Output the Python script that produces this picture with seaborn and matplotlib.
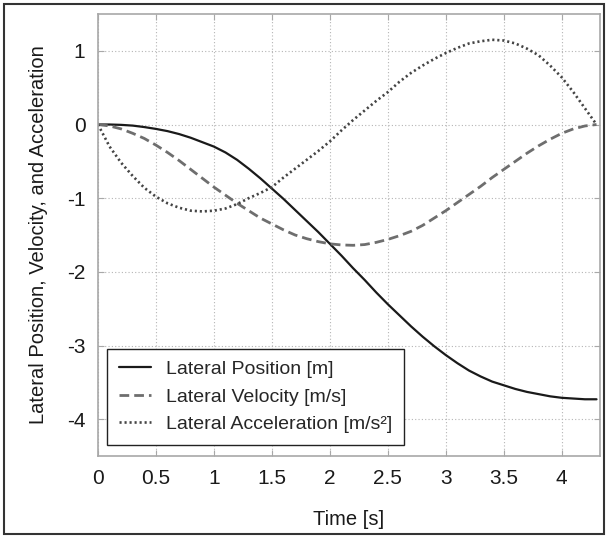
import numpy as np
import pandas as pd
import seaborn as sns
import matplotlib.pyplot as plt
from matplotlib.patches import Rectangle

# time samples [s]
time = [0.0, 0.1, 0.2, 0.3, 0.4, 0.5, 0.6, 0.7, 0.8, 0.9,
        1.0, 1.1, 1.2, 1.3, 1.4, 1.5, 1.6, 1.7, 1.8, 1.9,
        2.0, 2.1, 2.2, 2.3, 2.4, 2.5, 2.6, 2.7, 2.8, 2.9,
        3.0, 3.1, 3.2, 3.3, 3.4, 3.5, 3.6, 3.7, 3.8, 3.9,
        4.0, 4.1, 4.2, 4.3]

position = [0.0, 0.0, -0.005, -0.015, -0.035, -0.06, -0.09, -0.13, -0.18, -0.24,
            -0.30, -0.38, -0.48, -0.60, -0.73, -0.87, -1.01, -1.16, -1.31, -1.46,
            -1.62, -1.78, -1.95, -2.11, -2.28, -2.44, -2.59, -2.74, -2.88, -3.01,
            -3.13, -3.24, -3.34, -3.42, -3.49, -3.54, -3.59, -3.63, -3.66, -3.69,
            -3.71, -3.72, -3.73, -3.73]

velocity = [0.0, -0.02, -0.06, -0.12, -0.19, -0.28, -0.38, -0.49, -0.61, -0.73,
            -0.85, -0.96, -1.07, -1.17, -1.27, -1.35, -1.43, -1.50, -1.55, -1.59,
            -1.62, -1.635, -1.64, -1.63, -1.60, -1.56, -1.51, -1.45, -1.37, -1.27,
            -1.17, -1.06, -0.95, -0.84, -0.72, -0.61, -0.50, -0.39, -0.29, -0.20,
            -0.12, -0.06, -0.02, 0.0]

acceleration = [0.0, -0.30, -0.52, -0.70, -0.86, -0.98, -1.07, -1.13, -1.17, -1.18,
                -1.17, -1.14, -1.08, -1.00, -0.93, -0.85, -0.72, -0.60, -0.48, -0.36,
                -0.23, -0.08, 0.06, 0.19, 0.32, 0.44, 0.58, 0.70, 0.80, 0.89,
                0.97, 1.04, 1.10, 1.13, 1.15, 1.14, 1.10, 1.03, 0.94, 0.80,
                0.64, 0.44, 0.22, 0.0]

x_ticks = [0, 0.5, 1, 1.5, 2, 2.5, 3, 3.5, 4]
x_tick_labels = ["0", "0.5", "1", "1.5", "2", "2.5", "3", "3.5", "4"]
y_ticks = [-4, -3, -2, -1, 0, 1]

df = pd.DataFrame({"t": time, "pos": position, "vel": velocity, "acc": acceleration})

sns.set_style("ticks")
plt.rcParams["font.family"] = ["Liberation Sans", "DejaVu Sans"]
plt.rcParams["axes.unicode_minus"] = False

fig = plt.figure(figsize=(6.06, 5.36), dpi=100)
ax = fig.add_axes([98 / 606, 80 / 536, 502 / 606, 442 / 536])

sns.lineplot(data=df, x="t", y="pos", ax=ax, color="#1a1a1a", lw=1.6,
             label="Lateral Position [m]")
sns.lineplot(data=df, x="t", y="vel", ax=ax, color="#6e6e6e", lw=2.0,
             linestyle=(0, (3.5, 1.8)), label="Lateral Velocity [m/s]")
sns.lineplot(data=df, x="t", y="acc", ax=ax, color="#444444", lw=1.9,
             linestyle=(0, (0.8, 1.1)), label="Lateral Acceleration [m/s²]")

ax.set_xlim(0, 4.33)
ax.set_ylim(-4.5, 1.5)
ax.set_xticks(x_ticks)
ax.set_xticklabels(x_tick_labels)
ax.set_yticks(y_ticks)

ax.grid(True, color="#b5b5b5", linestyle=(0, (1, 2)), linewidth=0.8)
for s in ax.spines.values():
    s.set_color("#a8a8a8")
    s.set_linewidth(1.2)
ax.tick_params(direction="in", length=4, width=0.8, color="#a8a8a8",
               top=True, right=True, labelsize=15, pad=9, labelcolor="#1a1a1a")

ax.set_xlabel("Time [s]", fontsize=14.5, labelpad=16, color="#1a1a1a")
ax.set_ylabel("Lateral Position, Velocity, and Acceleration", fontsize=14.5,
              labelpad=14, color="#1a1a1a")

leg = ax.legend(loc="lower left", bbox_to_anchor=(0.018, 0.025), fontsize=14,
                fancybox=False, framealpha=1, edgecolor="#222222",
                handlelength=1.65, handletextpad=0.75, labelspacing=0.5,
                borderpad=0.62, borderaxespad=0)
leg.get_frame().set_linewidth(1.0)

# outer frame around the whole figure
fig.patches.append(Rectangle((4 / 606, 2 / 536), 600 / 606, 530 / 536,
                             transform=fig.transFigure, fill=False,
                             edgecolor="#333333", lw=1.5))

fig.savefig("out.png", dpi=100)
